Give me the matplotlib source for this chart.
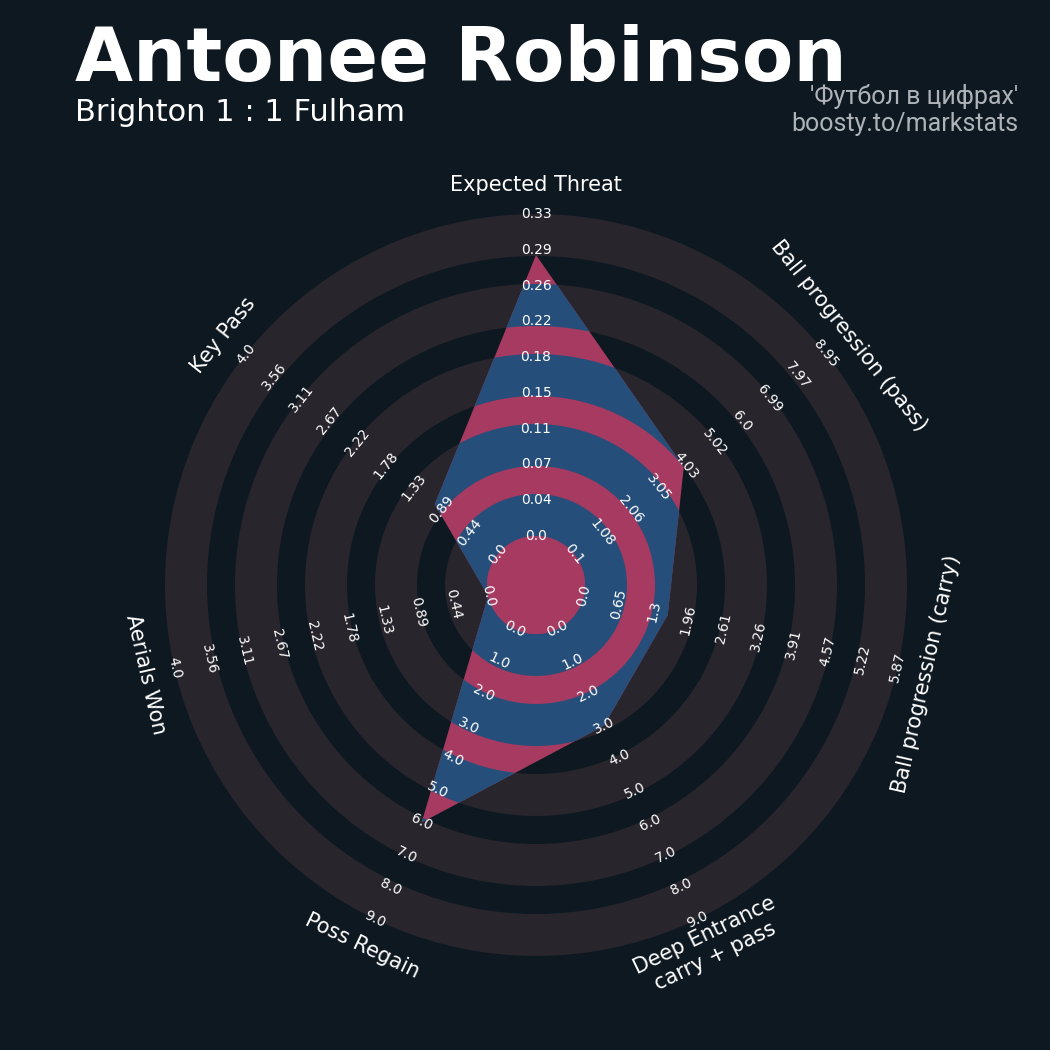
import numpy as np
import matplotlib.pyplot as plt
from matplotlib.patches import Annulus, Circle, Polygon

# Radar data
params = ['Expected Threat', 'Ball progression (pass)', 'Ball progression (carry)',
          'Deep Entrance\ncarry + pass', 'Poss Regain', 'Aerials Won', 'Key Pass']
low = [0.0, 0.1, 0.0, 0.0, 0.0, 0.0, 0.0]
high = [0.33, 8.95, 5.87, 9.0, 9.0, 4.0, 4.0]
values = [0.288, 3.95, 1.57, 3.0, 6.0, 0.0, 1.0]

ring_labels = [
    ['0.0', '0.04', '0.07', '0.11', '0.15', '0.18', '0.22', '0.26', '0.29', '0.33'],
    ['0.1', '1.08', '2.06', '3.05', '4.03', '5.02', '6.0', '6.99', '7.97', '8.95'],
    ['0.0', '0.65', '1.3', '1.96', '2.61', '3.26', '3.91', '4.57', '5.22', '5.87'],
    ['0.0', '1.0', '2.0', '3.0', '4.0', '5.0', '6.0', '7.0', '8.0', '9.0'],
    ['0.0', '1.0', '2.0', '3.0', '4.0', '5.0', '6.0', '7.0', '8.0', '9.0'],
    ['0.0', '0.44', '0.89', '1.33', '1.78', '2.22', '2.67', '3.11', '3.56', '4.0'],
    ['0.0', '0.44', '0.89', '1.33', '1.78', '2.22', '2.67', '3.11', '3.56', '4.0'],
]

# Colours
BG = '#0e1821'
RING = '#28252c'
RADAR = '#a63a60'
INNER = '#264e7a'

# Geometry (radar units)
center_r = 7
outer_r = 53
ring_width = 6
ring_step = 10
label_r = 57.2

n = len(params)
theta = np.deg2rad(90 - np.arange(n) * 360 / n)


def text_rotation(t):
    rot = np.rad2deg(t) - 90
    rot = (rot + 180) % 360 - 180
    if rot > 90 or rot < -90:
        rot = (rot + 360) % 360 - 180
    return rot


fig = plt.figure(figsize=(10.5, 10.5), dpi=100, facecolor=BG)
ax = fig.add_axes([0, 0, 1, 1])
ax.set_facecolor(BG)
ax.set_xlim(-536 / 7, -536 / 7 + 150)
ax.set_ylim(585 / 7 - 150, 585 / 7)
ax.set_aspect('equal')
ax.axis('off')

# Background rings
ring_outer = np.arange(center_r + ring_width, outer_r + 1, ring_step)
for r in ring_outer:
    ax.add_patch(Annulus((0, 0), r, ring_width, facecolor=RING, edgecolor='none', zorder=1))
ax.add_patch(Circle((0, 0), center_r, facecolor=RING, edgecolor='none', zorder=1))

# Radar polygon
radius = [center_r + (v - lo) / (hi - lo) * (outer_r - center_r)
          for v, lo, hi in zip(values, low, high)]
verts = np.column_stack([radius * np.cos(theta), radius * np.sin(theta)])
poly = Polygon(verts, closed=True, facecolor=RADAR, edgecolor='none', zorder=2)
ax.add_patch(poly)
for r in ring_outer:
    ring = Annulus((0, 0), r, ring_width, facecolor=INNER, edgecolor='none', zorder=3)
    ax.add_patch(ring)
    ring.set_clip_path(poly)
ax.add_patch(Circle((0, 0), center_r, facecolor=RADAR, edgecolor='none', zorder=3))

# Range labels
label_pos = np.linspace(center_r, outer_r, 10)
for t, labs in zip(theta, ring_labels):
    rot = text_rotation(t)
    for r, lab in zip(label_pos, labs):
        ax.text(r * np.cos(t), r * np.sin(t), lab, color='white', fontsize=10,
                rotation=rot, rotation_mode='anchor', ha='center', va='center', zorder=5)

# Parameter labels
for t, p in zip(theta, params):
    ax.text(label_r * np.cos(t), label_r * np.sin(t), p, color='white', fontsize=15,
            rotation=text_rotation(t), rotation_mode='anchor', ha='center', va='center',
            multialignment='center', zorder=5)

# Titles
fig.text(75 / 1050, 1 - 81 / 1050, 'Antonee Robinson', color='white', fontsize=54,
         fontweight='bold', ha='left', va='baseline')
fig.text(75 / 1050, 1 - 121 / 1050, 'Brighton 1 : 1 Fulham', color='white', fontsize=22,
         ha='left', va='baseline')
fig.text(1018 / 1050, 1 - 104 / 1050, "'Футбол в цифрах'", color='#aeb3b8', fontsize=18,
         family='Roboto', ha='right', va='baseline')
fig.text(1018 / 1050, 1 - 131 / 1050, 'boosty.to/markstats', color='#aeb3b8', fontsize=18,
         family='Roboto', ha='right', va='baseline')

fig.savefig('out.png', dpi=100, facecolor=BG)
